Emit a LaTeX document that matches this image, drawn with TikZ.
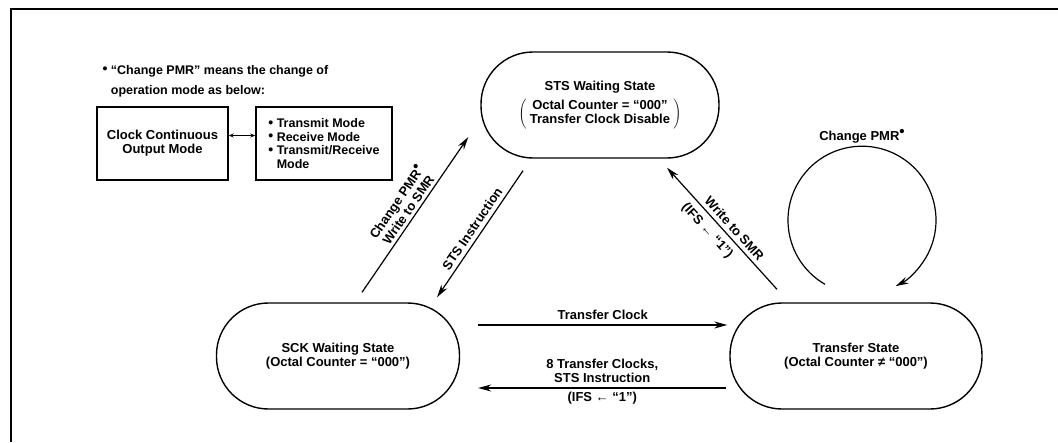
\documentclass[tikz,border=0pt]{standalone}
\usepackage{fontspec}
\setmainfont{Liberation Sans}
\usetikzlibrary{arrows.meta, positioning}

\newcommand{\pmrmark}{\raisebox{0.6ex}{\fontsize{15}{15}\selectfont•}}
\newcommand{\modedot}{\raisebox{0.1ex}{\fontsize{14}{14}\selectfont•}\ }

\begin{document}
\begin{tikzpicture}[x=1pt, y=-1pt,
    font=\bfseries\fontsize{13}{14}\selectfont,
    state node/.style={draw, line width=1.4pt, rounded corners=52pt, minimum height=106pt, align=center, inner sep=0pt},
    mode box/.style={draw, line width=1.4pt, minimum height=73pt, inner sep=2pt},
    trans/.style={line width=1.2pt, -{Stealth[length=13pt, width=7pt]}}]
    \useasboundingbox (0,0) rectangle (1058,442);
    \draw[line width=1.5pt] (1058,9) -- (11,9) -- (11,442);

    \node[anchor=north west, align=left, font=\bfseries\fontsize{12.5}{14}\selectfont] (note) at (99,62) {\modedot``Change PMR'' means the change of\\[6pt]\hphantom{\modedot}operation mode as below:};
    \node[mode box, minimum width=131pt, align=center] (clk) at (162.5,143.5) {Clock Continuous\\Output Mode};
    \node[mode box, minimum width=136pt, align=left, font=\bfseries\fontsize{12.5}{13.5}\selectfont] (modes) at (324,143.5) {\modedot Transmit Mode\\\modedot Receive Mode\\\modedot Transmit/Receive\\\hphantom{\modedot}Mode};
    \draw[line width=1pt, {Stealth[length=5pt, width=4pt]}-{Stealth[length=5pt, width=4pt]}] ([yshift=8pt]clk.east) -- ([yshift=8pt]modes.west);

    \node[state node, minimum width=238pt] (sts) at (600,105) {STS Waiting State\\[5pt] $\left(\;\begin{tabular}{@{}c@{}}Octal Counter = ``000''\\ Transfer Clock Disable\end{tabular}\;\right)$};
    \node[state node, minimum width=243pt] (sck) at (338,356) {SCK Waiting State\\(Octal Counter = ``000'')};
    \node[state node, minimum width=252pt] (xfer) at (856,356) {Transfer State\\(Octal Counter ≠ ``000'')};

    \draw[trans] ([xshift=24pt, yshift=10pt]sck.north) -- node[sloped, above, align=center, inner sep=3pt] {Change PMR\pmrmark\\Write to SMR} ([xshift=-12pt, yshift=-32pt]sts.west);
    \draw[trans] ([xshift=-77pt, yshift=-12pt]sts.south) -- node[sloped, above, inner sep=4pt] {STS Instruction} ([xshift=99pt, yshift=5pt]sck.north);
    \draw[trans] ([xshift=-79pt, yshift=13pt]xfer.north) -- node[sloped, above, inner sep=4pt, pos=0.45] {Write to SMR} node[sloped, below, inner sep=6pt, pos=0.55] {(IFS ← ``1'')} ([xshift=67pt, yshift=-9pt]sts.south);

    \draw[trans] ([xshift=18pt, yshift=31pt]sck.east) -- node[above, inner sep=5pt] {Transfer Clock} ([xshift=-2pt, yshift=31pt]xfer.west);
    \draw[trans] ([xshift=-3pt, yshift=-32pt]xfer.west) -- node[above, align=center, inner sep=5pt] {8 Transfer Clocks,\\STS Instruction} node[below, inner sep=3pt] {(IFS ← ``1'')} ([xshift=18pt, yshift=-32pt]sck.east);

    \draw[trans] ([xshift=-31pt, yshift=18pt]xfer.north) arc[start angle=240, end angle=-63, radius=74pt];
    \node (loop label) at (862,136) {Change PMR\pmrmark};
\end{tikzpicture}
\end{document}
